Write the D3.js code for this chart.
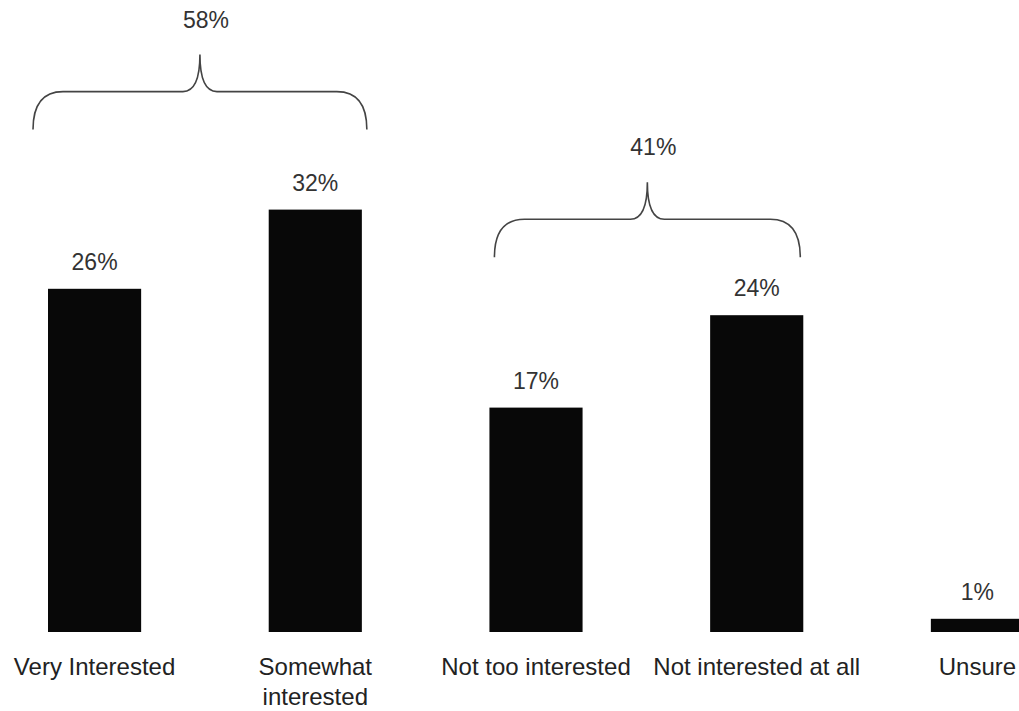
<!DOCTYPE html>
<html>
<head>
<meta charset="utf-8">
<script src="https://cdn.jsdelivr.net/npm/d3@7"></script>
<style>
  body { margin: 0; background: #fff; }
  svg { display: block; font-family: "Liberation Sans", Arial, sans-serif; }
</style>
</head>
<body>
<svg id="chart" width="1019" height="711"></svg>
<script>
// data
const categories = ["Very Interested", "Somewhat interested", "Not too interested", "Not interested at all", "Unsure"];
const labelLines = [["Very Interested"], ["Somewhat", "interested"], ["Not too interested"], ["Not interested at all"], ["Unsure"]];
const values = [26, 32, 17, 24, 1];
const groupFrom = ["Very Interested", "Not too interested"];
const groupTo = ["Somewhat interested", "Not interested at all"];
const groupLabels = ["58%", "41%"];

const svg = d3.select("#chart");
const baseY = 632;

const x = d3.scaleBand()
  .domain(categories)
  .range([48, 1024])
  .paddingInner(0.578)
  .paddingOuter(0);

const y = d3.scaleLinear()
  .domain([0, 35])
  .range([baseY, baseY - 35 * 13.2]);

// bars
svg.selectAll("rect.bar")
  .data(values)
  .enter()
  .append("rect")
  .attr("class", "bar")
  .attr("x", (d, i) => x(categories[i]))
  .attr("y", d => y(d))
  .attr("width", x.bandwidth())
  .attr("height", d => baseY - y(d))
  .attr("fill", "#080808");

// value labels
svg.selectAll("text.val")
  .data(values)
  .enter()
  .append("text")
  .attr("class", "val")
  .attr("x", (d, i) => x(categories[i]) + x.bandwidth() / 2)
  .attr("y", d => y(d) - 19)
  .attr("text-anchor", "middle")
  .attr("font-size", 23)
  .attr("fill", "#333")
  .text(d => d + "%");

// category labels
const cat = svg.selectAll("text.cat")
  .data(labelLines)
  .enter()
  .append("text")
  .attr("class", "cat")
  .attr("text-anchor", "middle")
  .attr("font-size", 24)
  .attr("fill", "#222")
  .attr("transform", (d, i) => `translate(${x(categories[i]) + x.bandwidth() / 2},${baseY + 43})`);

cat.selectAll("tspan")
  .data(d => d)
  .enter()
  .append("tspan")
  .attr("x", 0)
  .attr("y", (d, i) => i * 30)
  .text(d => d);

// braces over the groups
const braceLift = [80, 58];   // gap between brace ends and tallest bar
const braceIn = [[-15, 5], [5, -3]];
const bracePath = (x0, x1, yb) => {
  const yh = yb - 38, ytip = yb - 75, xm = (x0 + x1) / 2;
  return `M ${x0},${yb} Q ${x0},${yh} ${x0 + 30},${yh}
    H ${xm - 17} Q ${xm},${yh} ${xm},${ytip}
    Q ${xm},${yh} ${xm + 17},${yh}
    H ${x1 - 30} Q ${x1},${yh} ${x1},${yb}`;
};

groupFrom.forEach((from, g) => {
  const to = groupTo[g];
  const i0 = categories.indexOf(from), i1 = categories.indexOf(to);
  const top = d3.max(values.slice(i0, i1 + 1));
  const x0 = x(from) + braceIn[g][0];
  const x1 = x(to) + x.bandwidth() + braceIn[g][1];
  const yb = y(top) - braceLift[g];
  svg.append("path")
    .attr("d", bracePath(x0, x1, yb))
    .attr("fill", "none")
    .attr("stroke", "#444")
    .attr("stroke-width", 1.6);
  svg.append("text")
    .attr("x", (x0 + x1) / 2 + 6)
    .attr("y", yb - 75 - 27)
    .attr("text-anchor", "middle")
    .attr("font-size", 23)
    .attr("fill", "#333")
    .text(groupLabels[g]);
});
</script>
</body>
</html>
